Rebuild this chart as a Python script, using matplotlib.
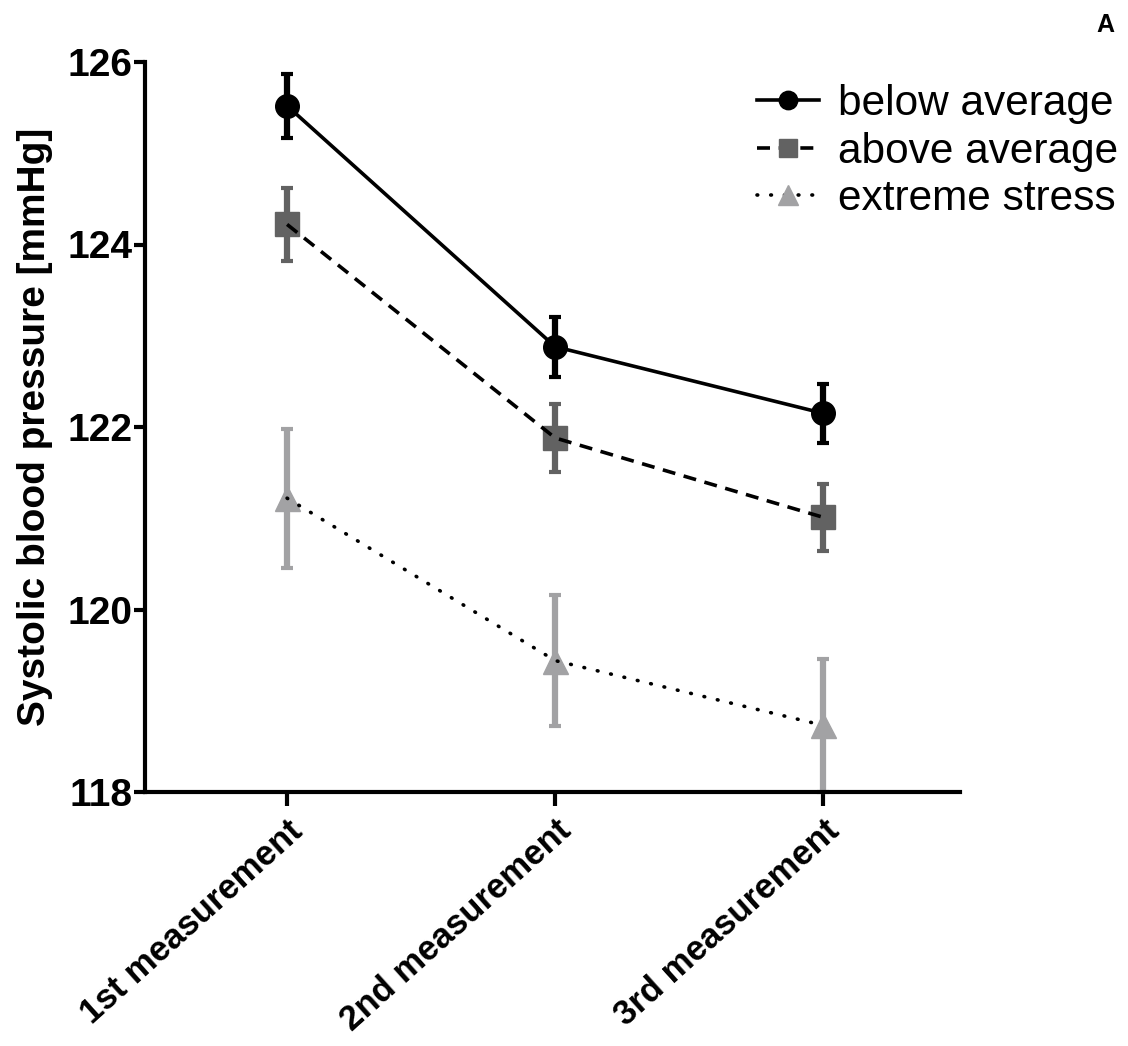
import matplotlib
matplotlib.use("Agg")
import matplotlib.pyplot as plt
from matplotlib.lines import Line2D

plt.rcParams['font.family'] = ['Liberation Sans', 'DejaVu Sans']

categories = ["1st measurement", "2nd measurement", "3rd measurement"]
series_names = ["below average", "above average", "extreme stress"]
below_mean = [125.52, 122.88, 122.15]
below_err = [0.35, 0.33, 0.32]
above_mean = [124.22, 121.88, 121.01]
above_err = [0.40, 0.37, 0.37]
extreme_mean = [121.22, 119.44, 118.73]
extreme_err = [0.76, 0.72, 0.73]
yticks = [118, 120, 122, 124, 126]

fig = plt.figure(figsize=(11.28, 10.46), dpi=100)
ax = fig.add_axes([145/1128, 1-792/1046, (960-145)/1128, (792-62)/1046])

x = list(range(len(categories)))
styles = [
    dict(mean=below_mean, err=below_err, color='black', marker='o', ms=17, ls='-'),
    dict(mean=above_mean, err=above_err, color='#626262', marker='s', ms=17, ls=(0, (3.6, 2.4))),
    dict(mean=extreme_mean, err=extreme_err, color='#a2a2a4', marker='^', ms=18, ls=(0, (0.2, 3.6))),
]
handles = []
for st, name in zip(styles, series_names):
    rnd = 'round' if st['marker'] == '^' else 'butt'
    ax.errorbar(x, st['mean'], yerr=st['err'], fmt='none', ecolor=st['color'],
                elinewidth=4.5, capsize=4.5, capthick=3, zorder=2, clip_on=False)
    ax.plot(x, st['mean'], linestyle='none', marker=st['marker'], ms=st['ms'],
            mfc=st['color'], mec=st['color'], zorder=3, clip_on=False)
    ax.plot(x, st['mean'], color='black', linestyle=st['ls'], lw=2.6, zorder=4,
            solid_capstyle='butt', dash_capstyle=rnd)
    handles.append(Line2D([], [], color='black', linestyle=st['ls'], lw=2.6,
                          marker=st['marker'], ms=st['ms']*0.78, mfc=st['color'], mec=st['color'],
                          dash_capstyle=rnd))

ax.set_xlim(-0.53, 2.51)
ax.set_ylim(118, 126)
ax.set_yticks(yticks)
ax.set_xticks(x)
ax.set_xticklabels(categories, rotation=42, ha='right', rotation_mode='anchor',
                   fontsize=25, fontweight='bold')
for lab in ax.get_yticklabels():
    lab.set_fontweight('bold')
ax.tick_params(axis='y', labelsize=28, width=3, length=8, pad=1, direction='out')
ax.tick_params(axis='x', width=3, length=10, pad=6, direction='out')
for s in ['top', 'right']:
    ax.spines[s].set_visible(False)
for s in ['left', 'bottom']:
    ax.spines[s].set_linewidth(3)
ax.set_ylabel("Systolic blood pressure [mmHg]", fontsize=28, fontweight='bold', labelpad=10)

leg = ax.legend(handles, series_names, loc='upper right', bbox_to_anchor=(1118/1128, 1-84/1046),
                bbox_transform=fig.transFigure, frameon=False, fontsize=30.5, handlelength=1.45,
                handletextpad=0.45, labelspacing=0.18, borderaxespad=0, borderpad=0)

fig.text(1105/1128, 1-25/1046, "A", ha='center', va='center', fontsize=18, fontweight='bold')

fig.savefig("out.png", dpi=100)
